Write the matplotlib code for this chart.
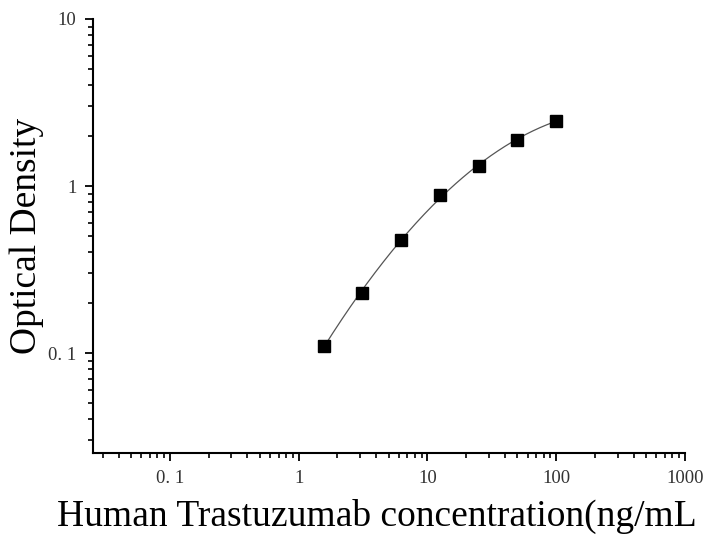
import matplotlib
matplotlib.use("Agg")
import matplotlib.pyplot as plt
import numpy as np
from matplotlib.ticker import LogLocator, FixedLocator, FixedFormatter, NullFormatter

concentration = [1.5625, 3.125, 6.25, 12.5, 25, 50, 100]
optical_density = [0.110, 0.230, 0.472, 0.889, 1.309, 1.898, 2.456]

x_ticks = [0.1, 1, 10, 100, 1000]
x_tick_labels = ["0. 1", "1", "10", "100", "1000"]
y_ticks = [0.1, 1, 10]
y_tick_labels = ["0. 1", "1", "10"]

plt.rcParams["font.family"] = ["Liberation Serif", "DejaVu Serif"]

# standard curve: fit in log-log space
lx = np.log10(concentration)
ly = np.log10(optical_density)
coef = np.polyfit(lx, ly, 2)
fit_x = np.logspace(lx[0], lx[-1], 200)
fit_y = 10 ** np.polyval(coef, np.log10(fit_x))

fig = plt.figure(figsize=(7.06, 5.35), dpi=100)
ax = fig.add_axes([0.1317, 0.1533, 0.8385, 0.8112])
ax.plot(fit_x, fit_y, color="#555555", linewidth=0.9, zorder=2)
ax.plot(concentration, optical_density, linestyle="none", marker="s", markersize=8.5,
        color="black", zorder=3)

ax.set_xscale("log")
ax.set_yscale("log")
ax.set_xlim(0.0253, 1000)
ax.set_ylim(0.0252, 10)

ax.xaxis.set_major_locator(FixedLocator(x_ticks))
ax.xaxis.set_major_formatter(FixedFormatter(x_tick_labels))
ax.yaxis.set_major_locator(FixedLocator(y_ticks))
ax.yaxis.set_major_formatter(FixedFormatter(y_tick_labels))
ax.xaxis.set_minor_locator(LogLocator(base=10, subs=np.arange(2, 10), numticks=20))
ax.yaxis.set_minor_locator(LogLocator(base=10, subs=np.arange(2, 10), numticks=20))
ax.xaxis.set_minor_formatter(NullFormatter())
ax.yaxis.set_minor_formatter(NullFormatter())

for side in ("top", "right"):
    ax.spines[side].set_visible(False)
for side in ("left", "bottom"):
    ax.spines[side].set_linewidth(1.5)

ax.tick_params(which="major", direction="out", length=6, width=1.3, labelsize=13.5,
               labelcolor="#333333", pad=6)
ax.tick_params(which="minor", direction="out", length=3.5, width=1.2)

ax.set_xlabel("Human Trastuzumab concentration(ng/mL", fontsize=27)
ax.set_ylabel("Optical Density", fontsize=27, labelpad=3)
ax.xaxis.set_label_coords(0.48, -0.105)

fig.savefig("out.png", dpi=100)
plt.close(fig)
